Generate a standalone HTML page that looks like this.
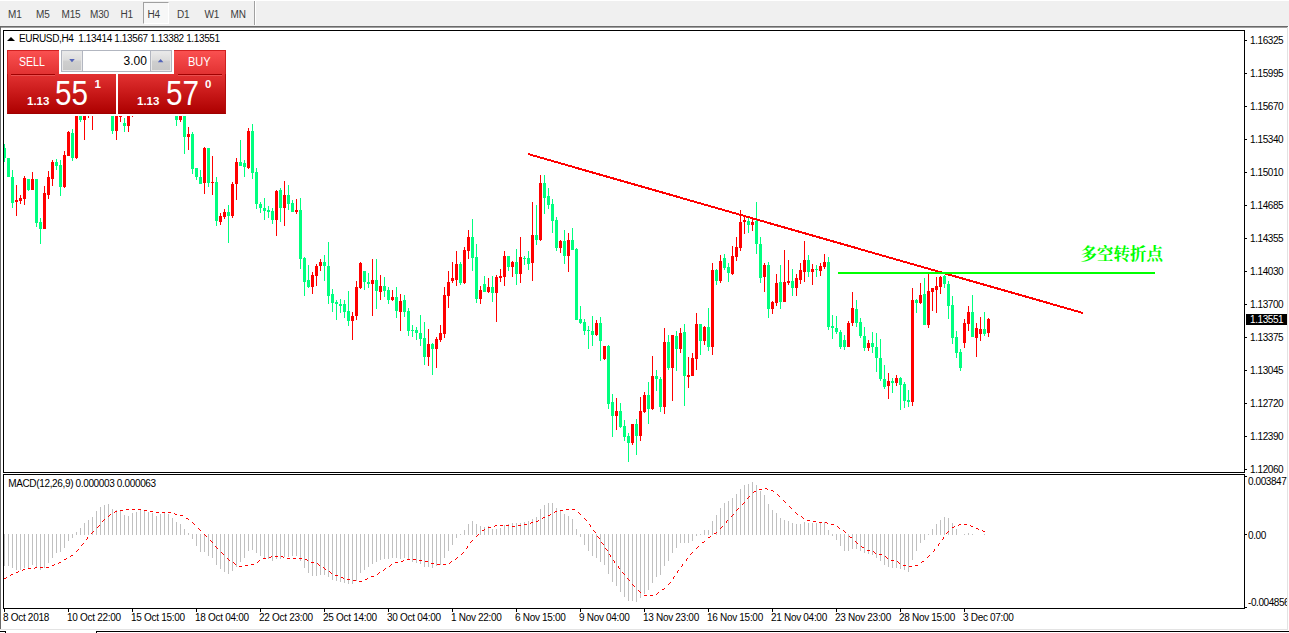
<!DOCTYPE html>
<html><head><meta charset="utf-8"><title>EURUSD,H4</title>
<style>
html,body{margin:0;padding:0;background:#fff;}
body{width:1289px;height:633px;position:relative;overflow:hidden;font-family:"Liberation Sans",sans-serif;font-size:10px;letter-spacing:-0.42px;color:#000;}
div,span{position:absolute;box-sizing:border-box;white-space:nowrap;}
#topbar{left:0;top:0;width:1289px;height:26px;background:#f0f0f0;border-top:1px solid #fff;}
.tb{top:9.2px;font-size:10px;letter-spacing:-0.2px;color:#3c3c3c;line-height:11px;}
#h4{left:143px;top:2px;width:26px;height:22px;border:1px solid #a0a0a0;border-right-color:#fff;border-bottom-color:#fff;background:#f7f7f7;}
#sep{left:254px;top:1px;width:1px;height:24px;background:#a0a0a0;}
#sep2{left:255px;top:1px;width:1px;height:24px;background:#fff;}
#tl1{left:0;top:26px;width:1288px;height:1px;background:#696969;}
#tl2{left:0;top:27px;width:1288px;height:1px;background:#a0a0a0;}
#ll{left:0;top:27px;width:1px;height:602px;background:#696969;}
#rl{left:1287px;top:27px;width:1px;height:603px;background:#e3e3e3;}
#bl{left:0;top:629px;width:1288px;height:1px;background:#e3e3e3;}
#bb{left:96px;top:631px;width:1193px;height:2px;border-top:1px solid #000;border-left:1px solid #000;background:#fff;}
#main{left:3px;top:30px;width:1242px;height:443px;border:1px solid #000;}
#sub{left:3px;top:474px;width:1242px;height:135px;border:1px solid #000;}
.tk{left:1245px;width:2px;height:1px;background:#000;}
.ax{left:1250px;line-height:12px;height:12px;}
.vt{top:609px;width:1px;height:3px;background:#000;}
.dt{top:612px;line-height:12px;letter-spacing:-0.3px;}
#cur{left:1246px;top:314px;width:41px;height:11px;background:#000;color:#fff;}
#cur span{left:4px;top:0.2px;line-height:12px;}
#title{left:19px;top:33.4px;letter-spacing:-0.37px;line-height:12px;}
#tri{left:7px;top:37px;width:0;height:0;border-left:4px solid transparent;border-right:4px solid transparent;border-bottom:4px solid #000;}
#macdl{left:8.2px;top:478.3px;line-height:12px;letter-spacing:-0.35px;}
svg{position:absolute;left:0;top:0;}
/* trade panel */
.red{background:linear-gradient(#f84c4c,#e03030 35%,#c41414 70%,#ae0000);}
#sellL{left:7px;top:74px;width:109px;height:40px;background:linear-gradient(#e23232,#c81818 50%,#ad0000);border-left:1px solid #b40c0c;border-bottom:1px solid #a00000;}
#buyL{left:118px;top:74px;width:108px;height:40px;background:linear-gradient(#e23232,#c81818 50%,#ad0000);border-right:1px solid #b40c0c;border-bottom:1px solid #a00000;}
#sellT{left:7px;top:50px;width:52px;height:24px;background:linear-gradient(#fa5050,#e23232);border-top:1px solid #d02020;border-left:1px solid #d02020;}
#buyT{left:174px;top:50px;width:52px;height:24px;background:linear-gradient(#fa5050,#e23232);border-top:1px solid #d02020;border-right:1px solid #d02020;}
.ul{top:74px;height:2px;background:#a00000;border-bottom:1px solid #e85050;}
.bt{color:#fff;letter-spacing:0;font-size:12px;line-height:14px;top:54.5px;transform-origin:0 0;}
.sm{color:#fff;letter-spacing:0;font-weight:bold;font-size:11.5px;line-height:12px;top:94.5px;}
.big{color:#fff;letter-spacing:0;font-size:34.5px;line-height:36px;top:75.2px;transform-origin:0 0;transform:scaleX(0.86);}
.sup{color:#fff;letter-spacing:0;font-weight:bold;font-size:11.5px;line-height:12px;top:78.3px;}
#spin{left:61px;top:50px;width:111px;height:22px;border:1px solid #b2b6c0;background:#fff;}
.sp{top:51px;width:1px;height:20px;background:#b2b6c0;}
.sb{top:51px;width:20px;height:20px;background:linear-gradient(#e9e9e9,#dcdcdc 45%,#cfcfcf 50%,#c8c8c8);border:1px solid #e8e8e8;}
#vol{left:123.5px;top:54px;letter-spacing:0;font-size:12px;line-height:14px;color:#000;}
</style></head><body>
<div id="topbar"></div><div id="h4"></div><div id="sep"></div><div id="sep2"></div><span class="tb" style="left:8px">M1</span><span class="tb" style="left:36px">M5</span><span class="tb" style="left:61.5px">M15</span><span class="tb" style="left:90px">M30</span><span class="tb" style="left:120.5px">H1</span><span class="tb" style="left:147.5px">H4</span><span class="tb" style="left:177px">D1</span><span class="tb" style="left:204.5px">W1</span><span class="tb" style="left:230.5px">MN</span>
<div id="tl1"></div><div id="tl2"></div><div id="ll"></div><div id="rl"></div><div id="bl"></div><div id="bb"></div>
<div style="left:0;top:631px;width:6px;height:2px;border-top:1px solid #000;border-right:1px solid #000"></div><div id="main"></div><div id="sub"></div>
<svg width="1289" height="633" viewBox="0 0 1289 633" shape-rendering="crispEdges">
<defs><clipPath id="c1"><rect x="4" y="31" width="1240" height="441"/></clipPath><clipPath id="c2"><rect x="4" y="475" width="1240" height="133"/></clipPath></defs>
<g clip-path="url(#c1)"><path fill="#00ff7f" d="M4 144h1V162h-1zM3 148h3V158h-3zM8 158h1V177h-1zM7 158h3V177h-3zM12 170h1V208h-1zM11 177h3V203h-3zM28 179h1V191h-1zM27 179h3V190h-3zM36 179h1V227h-1zM35 179h3V223h-3zM40 218h1V244h-1zM39 222h3V229h-3zM56 159h1V170h-1zM55 162h3V166h-3zM60 160h1V196h-1zM59 165h3V187h-3zM72 129h1V161h-1zM71 133h3V158h-3zM80 100h1V122h-1zM79 105h3V120h-3zM112 100h1V134h-1zM111 105h3V131h-3zM124 118h1V132h-1zM123 123h3V126h-3zM176 100h1V126h-1zM175 105h3V120h-3zM184 100h1V154h-1zM183 105h3V137h-3zM192 132h1V174h-1zM191 134h3V169h-3zM196 168h1V180h-1zM195 168h3V177h-3zM200 170h1V184h-1zM199 177h3V184h-3zM208 148h1V187h-1zM207 148h3V183h-3zM216 177h1V226h-1zM215 182h3V221h-3zM228 205h1V243h-1zM227 212h3V216h-3zM240 140h1V166h-1zM239 162h3V166h-3zM244 160h1V177h-1zM243 163h3V167h-3zM252 124h1V179h-1zM251 131h3V173h-3zM256 168h1V209h-1zM255 172h3V204h-3zM260 202h1V213h-1zM259 204h3V208h-3zM264 198h1V220h-1zM263 208h3V211h-3zM268 206h1V218h-1zM267 210h3V212h-3zM272 208h1V224h-1zM271 211h3V220h-3zM280 188h1V222h-1zM279 190h3V208h-3zM288 185h1V210h-1zM287 195h3V204h-3zM292 200h1V212h-1zM291 203h3V212h-3zM300 198h1V269h-1zM299 210h3V259h-3zM304 257h1V296h-1zM303 258h3V282h-3zM308 265h1V288h-1zM307 280h3V287h-3zM324 255h1V281h-1zM323 262h3V266h-3zM328 242h1V304h-1zM327 266h3V296h-3zM332 289h1V312h-1zM331 294h3V303h-3zM336 300h1V320h-1zM335 302h3V304h-3zM340 299h1V313h-1zM339 304h3V306h-3zM344 300h1V318h-1zM343 304h3V312h-3zM348 291h1V326h-1zM347 311h3V321h-3zM364 271h1V290h-1zM363 271h3V282h-3zM368 273h1V288h-1zM367 282h3V284h-3zM376 259h1V309h-1zM375 280h3V291h-3zM384 277h1V297h-1zM383 286h3V291h-3zM388 287h1V304h-1zM387 290h3V300h-3zM396 287h1V318h-1zM395 297h3V311h-3zM404 295h1V317h-1zM403 300h3V312h-3zM408 308h1V336h-1zM407 311h3V331h-3zM412 325h1V337h-1zM411 330h3V331h-3zM416 327h1V340h-1zM415 330h3V333h-3zM420 315h1V346h-1zM419 333h3V339h-3zM424 322h1V365h-1zM423 338h3V357h-3zM432 343h1V375h-1zM431 344h3V349h-3zM460 262h1V285h-1zM459 264h3V283h-3zM472 219h1V271h-1zM471 237h3V258h-3zM476 244h1V303h-1zM475 257h3V299h-3zM484 276h1V292h-1zM483 284h3V292h-3zM492 276h1V302h-1zM491 287h3V293h-3zM508 256h1V271h-1zM507 256h3V267h-3zM516 249h1V285h-1zM515 262h3V274h-3zM524 256h1V265h-1zM523 258h3V259h-3zM528 251h1V270h-1zM527 258h3V264h-3zM536 205h1V245h-1zM535 235h3V240h-3zM544 175h1V214h-1zM543 183h3V198h-3zM548 188h1V209h-1zM547 196h3V205h-3zM552 199h1V233h-1zM551 204h3V221h-3zM556 217h1V251h-1zM555 220h3V248h-3zM564 230h1V264h-1zM563 241h3V256h-3zM572 228h1V250h-1zM571 240h3V250h-3zM576 248h1V320h-1zM575 249h3V320h-3zM580 306h1V324h-1zM579 319h3V323h-3zM584 319h1V335h-1zM583 322h3V331h-3zM588 326h1V349h-1zM587 330h3V331h-3zM592 316h1V346h-1zM591 331h3V335h-3zM600 317h1V361h-1zM599 323h3V341h-3zM608 345h1V409h-1zM607 346h3V404h-3zM612 394h1V437h-1zM611 402h3V416h-3zM620 403h1V428h-1zM619 411h3V427h-3zM624 420h1V441h-1zM623 426h3V437h-3zM628 433h1V462h-1zM627 436h3V443h-3zM636 419h1V455h-1zM635 424h3V436h-3zM648 382h1V424h-1zM647 395h3V409h-3zM656 370h1V391h-1zM655 376h3V379h-3zM660 377h1V412h-1zM659 379h3V407h-3zM668 335h1V370h-1zM667 342h3V368h-3zM676 331h1V371h-1zM675 336h3V349h-3zM684 324h1V406h-1zM683 332h3V376h-3zM700 324h1V355h-1zM699 324h3V341h-3zM708 308h1V351h-1zM707 327h3V347h-3zM716 269h1V285h-1zM715 270h3V281h-3zM724 254h1V270h-1zM723 258h3V268h-3zM728 263h1V282h-1zM727 267h3V273h-3zM748 218h1V233h-1zM747 221h3V225h-3zM756 202h1V254h-1zM755 221h3V244h-3zM760 237h1V283h-1zM759 244h3V278h-3zM768 262h1V318h-1zM767 265h3V309h-3zM780 265h1V309h-1zM779 282h3V302h-3zM792 269h1V296h-1zM791 281h3V288h-3zM808 255h1V277h-1zM807 260h3V272h-3zM816 265h1V277h-1zM815 269h3V270h-3zM828 257h1V330h-1zM827 262h3V327h-3zM832 315h1V339h-1zM831 326h3V328h-3zM836 316h1V334h-1zM835 328h3V332h-3zM840 330h1V349h-1zM839 332h3V347h-3zM844 335h1V350h-1zM843 340h3V347h-3zM856 300h1V327h-1zM855 309h3V323h-3zM860 318h1V338h-1zM859 322h3V336h-3zM864 327h1V351h-1zM863 336h3V348h-3zM872 332h1V353h-1zM871 343h3V347h-3zM876 333h1V372h-1zM875 347h3V358h-3zM880 339h1V381h-1zM879 358h3V379h-3zM884 365h1V389h-1zM883 379h3V387h-3zM892 378h1V393h-1zM891 381h3V383h-3zM900 377h1V410h-1zM899 378h3V385h-3zM904 382h1V408h-1zM903 384h3V401h-3zM908 390h1V407h-1zM907 400h3V402h-3zM916 299h1V313h-1zM915 300h3V303h-3zM924 278h1V325h-1zM923 294h3V325h-3zM944 275h1V288h-1zM943 276h3V284h-3zM948 281h1V319h-1zM947 284h3V306h-3zM952 296h1V344h-1zM951 305h3V338h-3zM956 331h1V358h-1zM955 337h3V353h-3zM960 349h1V371h-1zM959 352h3V368h-3zM972 295h1V337h-1zM971 312h3V337h-3zM984 312h1V336h-1zM983 329h3V334h-3z"/><path fill="#ff0000" d="M16 185h1V216h-1zM15 200h3V202h-3zM20 195h1V204h-1zM19 198h3V201h-3zM24 176h1V205h-1zM23 178h3V199h-3zM32 172h1V190h-1zM31 179h3V190h-3zM44 186h1V229h-1zM43 193h3V229h-3zM48 171h1V199h-1zM47 177h3V195h-3zM52 160h1V186h-1zM51 162h3V179h-3zM64 151h1V188h-1zM63 155h3V187h-3zM68 131h1V156h-1zM67 132h3V156h-3zM76 100h1V159h-1zM75 105h3V158h-3zM84 100h1V140h-1zM83 105h3V120h-3zM88 100h1V118h-1zM87 105h3V113h-3zM92 100h1V130h-1zM91 105h3V112h-3zM116 100h1V140h-1zM115 105h3V131h-3zM120 100h1V122h-1zM119 105h3V117h-3zM128 100h1V132h-1zM127 105h3V126h-3zM132 100h1V117h-1zM131 105h3V113h-3zM180 100h1V122h-1zM179 105h3V120h-3zM188 127h1V150h-1zM187 134h3V137h-3zM204 147h1V194h-1zM203 148h3V183h-3zM212 156h1V195h-1zM211 182h3V183h-3zM220 213h1V225h-1zM219 216h3V222h-3zM224 209h1V219h-1zM223 212h3V217h-3zM232 182h1V218h-1zM231 184h3V216h-3zM236 158h1V200h-1zM235 162h3V184h-3zM248 128h1V169h-1zM247 131h3V168h-3zM276 190h1V236h-1zM275 191h3V220h-3zM284 181h1V226h-1zM283 195h3V208h-3zM296 199h1V214h-1zM295 210h3V212h-3zM312 272h1V294h-1zM311 275h3V287h-3zM316 264h1V286h-1zM315 266h3V276h-3zM320 259h1V271h-1zM319 262h3V266h-3zM352 312h1V340h-1zM351 316h3V321h-3zM356 281h1V320h-1zM355 287h3V316h-3zM360 262h1V289h-1zM359 263h3V288h-3zM372 259h1V316h-1zM371 280h3V284h-3zM380 275h1V300h-1zM379 286h3V292h-3zM392 290h1V301h-1zM391 297h3V300h-3zM400 294h1V331h-1zM399 301h3V312h-3zM428 329h1V366h-1zM427 344h3V357h-3zM436 337h1V368h-1zM435 339h3V349h-3zM440 325h1V342h-1zM439 333h3V340h-3zM444 287h1V338h-1zM443 295h3V334h-3zM448 271h1V308h-1zM447 282h3V296h-3zM452 262h1V283h-1zM451 278h3V281h-3zM456 251h1V286h-1zM455 264h3V280h-3zM464 247h1V284h-1zM463 250h3V283h-3zM468 230h1V259h-1zM467 237h3V251h-3zM480 286h1V304h-1zM479 290h3V299h-3zM488 278h1V293h-1zM487 287h3V292h-3zM496 275h1V322h-1zM495 277h3V293h-3zM500 269h1V282h-1zM499 276h3V278h-3zM504 251h1V286h-1zM503 256h3V277h-3zM512 261h1V277h-1zM511 262h3V267h-3zM520 237h1V283h-1zM519 257h3V274h-3zM532 202h1V281h-1zM531 235h3V263h-3zM540 175h1V241h-1zM539 183h3V240h-3zM560 240h1V253h-1zM559 241h3V248h-3zM568 233h1V272h-1zM567 240h3V256h-3zM596 320h1V336h-1zM595 323h3V335h-3zM604 346h1V360h-1zM603 346h3V359h-3zM616 398h1V430h-1zM615 411h3V416h-3zM632 424h1V445h-1zM631 424h3V443h-3zM640 397h1V441h-1zM639 411h3V436h-3zM644 392h1V413h-1zM643 395h3V412h-3zM652 356h1V410h-1zM651 376h3V409h-3zM664 328h1V414h-1zM663 342h3V407h-3zM672 335h1V401h-1zM671 335h3V368h-3zM680 328h1V353h-1zM679 333h3V349h-3zM688 357h1V388h-1zM687 375h3V377h-3zM692 353h1V376h-1zM691 358h3V376h-3zM696 313h1V370h-1zM695 324h3V359h-3zM704 326h1V345h-1zM703 327h3V341h-3zM712 263h1V355h-1zM711 270h3V347h-3zM720 255h1V283h-1zM719 261h3V281h-3zM732 246h1V275h-1zM731 256h3V274h-3zM736 237h1V261h-1zM735 247h3V257h-3zM740 210h1V251h-1zM739 222h3V248h-3zM744 216h1V234h-1zM743 220h3V222h-3zM752 218h1V231h-1zM751 222h3V225h-3zM764 263h1V292h-1zM763 265h3V277h-3zM772 301h1V314h-1zM771 302h3V309h-3zM776 274h1V306h-1zM775 283h3V303h-3zM784 250h1V302h-1zM783 282h3V302h-3zM788 260h1V285h-1zM787 281h3V283h-3zM796 274h1V296h-1zM795 278h3V288h-3zM800 263h1V284h-1zM799 270h3V280h-3zM804 241h1V282h-1zM803 260h3V272h-3zM812 264h1V285h-1zM811 269h3V272h-3zM820 263h1V276h-1zM819 266h3V271h-3zM824 254h1V269h-1zM823 262h3V267h-3zM848 321h1V347h-1zM847 323h3V347h-3zM852 292h1V326h-1zM851 308h3V323h-3zM868 340h1V351h-1zM867 343h3V348h-3zM888 373h1V399h-1zM887 381h3V386h-3zM896 375h1V386h-1zM895 378h3V383h-3zM912 288h1V406h-1zM911 300h3V402h-3zM920 283h1V304h-1zM919 295h3V303h-3zM928 274h1V328h-1zM927 291h3V325h-3zM932 288h1V311h-1zM931 288h3V292h-3zM936 277h1V313h-1zM935 286h3V290h-3zM940 276h1V294h-1zM939 277h3V287h-3zM964 319h1V348h-1zM963 323h3V343h-3zM968 306h1V331h-1zM967 312h3V324h-3zM976 323h1V357h-1zM975 328h3V338h-3zM980 317h1V341h-1zM979 329h3V334h-3zM988 318h1V337h-1zM987 319h3V333h-3z"/>
<line x1="528" y1="154" x2="1083" y2="313" stroke="#ff0000" stroke-width="2"/>
<rect x="838" y="272" width="317" height="2" fill="#00ff00"/>
<text x="1080.5" y="259.5" font-size="16.5" font-weight="bold" fill="#00ff00" letter-spacing="0" font-family="&quot;Liberation Serif&quot;, &quot;Noto Serif CJK SC&quot;, serif" shape-rendering="auto">多空转折点</text>
</g>
<g clip-path="url(#c2)"><path fill="#c0c0c0" d="M4 534h1V566h-1zM8 534h1V566h-1zM12 534h1V568h-1zM16 534h1V570h-1zM20 534h1V570h-1zM24 534h1V568h-1zM28 534h1V568h-1zM32 534h1V565h-1zM36 534h1V567h-1zM40 534h1V570h-1zM44 534h1V568h-1zM48 534h1V563h-1zM52 534h1V558h-1zM56 534h1V553h-1zM60 534h1V552h-1zM64 534h1V548h-1zM68 534h1V541h-1zM72 534h1V538h-1zM76 532h1V535h-1zM80 528h1V535h-1zM84 523h1V535h-1zM88 520h1V535h-1zM92 517h1V535h-1zM96 511h1V535h-1zM100 507h1V535h-1zM104 505h1V535h-1zM108 504h1V535h-1zM112 509h1V535h-1zM116 510h1V535h-1zM120 511h1V535h-1zM124 515h1V535h-1zM128 516h1V535h-1zM132 513h1V535h-1zM136 512h1V535h-1zM140 510h1V535h-1zM144 511h1V535h-1zM148 512h1V535h-1zM152 513h1V535h-1zM156 516h1V535h-1zM160 514h1V535h-1zM164 513h1V535h-1zM168 514h1V535h-1zM172 518h1V535h-1zM176 522h1V535h-1zM180 524h1V535h-1zM184 529h1V535h-1zM188 533h1V535h-1zM192 534h1V539h-1zM196 534h1V546h-1zM200 534h1V552h-1zM204 534h1V552h-1zM208 534h1V556h-1zM212 534h1V558h-1zM216 534h1V565h-1zM220 534h1V569h-1zM224 534h1V572h-1zM228 534h1V574h-1zM232 534h1V571h-1zM236 534h1V567h-1zM240 534h1V562h-1zM244 534h1V558h-1zM248 534h1V551h-1zM252 534h1V550h-1zM256 534h1V553h-1zM260 534h1V556h-1zM264 534h1V558h-1zM268 534h1V559h-1zM272 534h1V561h-1zM276 534h1V559h-1zM280 534h1V559h-1zM284 534h1V557h-1zM288 534h1V557h-1zM292 534h1V556h-1zM296 534h1V556h-1zM300 534h1V561h-1zM304 534h1V568h-1zM308 534h1V573h-1zM312 534h1V576h-1zM316 534h1V576h-1zM320 534h1V575h-1zM324 534h1V575h-1zM328 534h1V577h-1zM332 534h1V580h-1zM336 534h1V581h-1zM340 534h1V582h-1zM344 534h1V583h-1zM348 534h1V584h-1zM352 534h1V584h-1zM356 534h1V581h-1zM360 534h1V573h-1zM364 534h1V570h-1zM368 534h1V567h-1zM372 534h1V564h-1zM376 534h1V562h-1zM380 534h1V560h-1zM384 534h1V559h-1zM388 534h1V559h-1zM392 534h1V558h-1zM396 534h1V558h-1zM400 534h1V559h-1zM404 534h1V558h-1zM408 534h1V560h-1zM412 534h1V562h-1zM416 534h1V563h-1zM420 534h1V564h-1zM424 534h1V567h-1zM428 534h1V567h-1zM432 534h1V568h-1zM436 534h1V566h-1zM440 534h1V565h-1zM444 534h1V558h-1zM448 534h1V551h-1zM452 534h1V545h-1zM456 534h1V538h-1zM460 534h1V535h-1zM464 530h1V535h-1zM468 524h1V535h-1zM472 521h1V535h-1zM476 524h1V535h-1zM480 526h1V535h-1zM484 527h1V535h-1zM488 526h1V535h-1zM492 529h1V535h-1zM496 529h1V535h-1zM500 528h1V535h-1zM504 525h1V535h-1zM508 524h1V535h-1zM512 523h1V535h-1zM516 523h1V535h-1zM520 523h1V535h-1zM524 522h1V535h-1zM528 521h1V535h-1zM532 519h1V535h-1zM536 517h1V535h-1zM540 509h1V535h-1zM544 505h1V535h-1zM548 503h1V535h-1zM552 503h1V535h-1zM556 508h1V535h-1zM560 510h1V535h-1zM564 514h1V535h-1zM568 516h1V535h-1zM572 519h1V535h-1zM576 529h1V535h-1zM580 534h1V537h-1zM584 534h1V545h-1zM588 534h1V551h-1zM592 534h1V556h-1zM596 534h1V558h-1zM600 534h1V562h-1zM604 534h1V565h-1zM608 534h1V574h-1zM612 534h1V582h-1zM616 534h1V586h-1zM620 534h1V592h-1zM624 534h1V597h-1zM628 534h1V601h-1zM632 534h1V601h-1zM636 534h1V602h-1zM640 534h1V598h-1zM644 534h1V594h-1zM648 534h1V590h-1zM652 534h1V583h-1zM656 534h1V577h-1zM660 534h1V575h-1zM664 534h1V566h-1zM668 534h1V561h-1zM672 534h1V553h-1zM676 534h1V548h-1zM680 534h1V543h-1zM684 534h1V543h-1zM688 534h1V543h-1zM692 534h1V541h-1zM696 534h1V536h-1zM700 534h1V535h-1zM704 530h1V535h-1zM708 530h1V535h-1zM712 521h1V535h-1zM716 515h1V535h-1zM720 508h1V535h-1zM724 503h1V535h-1zM728 501h1V535h-1zM732 498h1V535h-1zM736 494h1V535h-1zM740 489h1V535h-1zM744 485h1V535h-1zM748 484h1V535h-1zM752 482h1V535h-1zM756 485h1V535h-1zM760 491h1V535h-1zM764 495h1V535h-1zM768 504h1V535h-1zM772 510h1V535h-1zM776 513h1V535h-1zM780 518h1V535h-1zM784 520h1V535h-1zM788 521h1V535h-1zM792 523h1V535h-1zM796 524h1V535h-1zM800 524h1V535h-1zM804 522h1V535h-1zM808 523h1V535h-1zM812 523h1V535h-1zM816 523h1V535h-1zM820 523h1V535h-1zM824 522h1V535h-1zM828 530h1V535h-1zM832 534h1V536h-1zM836 534h1V540h-1zM840 534h1V546h-1zM844 534h1V551h-1zM848 534h1V551h-1zM852 534h1V549h-1zM856 534h1V549h-1zM860 534h1V551h-1zM864 534h1V553h-1zM868 534h1V554h-1zM872 534h1V555h-1zM876 534h1V558h-1zM880 534h1V561h-1zM884 534h1V565h-1zM888 534h1V567h-1zM892 534h1V568h-1zM896 534h1V568h-1zM900 534h1V569h-1zM904 534h1V570h-1zM908 534h1V572h-1zM912 534h1V560h-1zM916 534h1V551h-1zM920 534h1V543h-1zM924 534h1V540h-1zM928 534h1V535h-1zM932 529h1V535h-1zM936 524h1V535h-1zM940 520h1V535h-1zM944 517h1V535h-1zM948 518h1V535h-1zM952 523h1V535h-1zM956 529h1V535h-1zM964 534h1V535h-1zM968 533h1V535h-1zM972 534h1V535h-1zM984 534h1V535h-1z"/><path fill="#ff0000" d="M4 578h1v1h-1zM5 578h1v1h-1zM6 577h1v1h-1zM10 575h1v1h-1zM11 574h1v1h-1zM12 574h1v1h-1zM16 572h1v1h-1zM17 572h1v1h-1zM18 571h1v1h-1zM22 570h1v1h-1zM23 569h1v1h-1zM24 569h1v1h-1zM28 568h1v1h-1zM29 568h1v1h-1zM30 568h1v1h-1zM34 568h1v1h-1zM35 567h1v1h-1zM36 567h1v1h-1zM40 567h1v1h-1zM41 567h1v1h-1zM42 567h1v1h-1zM46 567h1v1h-1zM47 567h1v1h-1zM48 567h1v1h-1zM52 565h1v1h-1zM53 565h1v1h-1zM54 564h1v1h-1zM58 563h1v1h-1zM59 562h1v1h-1zM60 562h1v1h-1zM64 559h1v1h-1zM65 559h1v1h-1zM66 558h1v1h-1zM70 556h1v1h-1zM71 555h1v1h-1zM72 555h1v1h-1zM76 551h1v1h-1zM77 550h1v1h-1zM78 549h1v1h-1zM81 545h1v1h-1zM82 544h1v1h-1zM83 543h1v1h-1zM86 539h1v1h-1zM87 538h1v1h-1zM87 537h1v1h-1zM91 533h1v1h-1zM92 532h1v1h-1zM93 531h1v1h-1zM97 527h1v1h-1zM98 526h1v1h-1zM99 525h1v1h-1zM102 521h1v1h-1zM103 520h1v1h-1zM104 519h1v1h-1zM108 516h1v1h-1zM109 515h1v1h-1zM110 514h1v1h-1zM114 512h1v1h-1zM115 511h1v1h-1zM116 511h1v1h-1zM120 510h1v1h-1zM121 510h1v1h-1zM122 510h1v1h-1zM126 509h1v1h-1zM127 509h1v1h-1zM128 509h1v1h-1zM132 509h1v1h-1zM133 509h1v1h-1zM134 509h1v1h-1zM138 509h1v1h-1zM139 509h1v1h-1zM140 509h1v1h-1zM144 510h1v1h-1zM145 510h1v1h-1zM146 510h1v1h-1zM150 511h1v1h-1zM151 511h1v1h-1zM152 511h1v1h-1zM156 512h1v1h-1zM157 512h1v1h-1zM158 512h1v1h-1zM162 512h1v1h-1zM163 512h1v1h-1zM164 512h1v1h-1zM168 512h1v1h-1zM169 512h1v1h-1zM170 512h1v1h-1zM174 513h1v1h-1zM175 514h1v1h-1zM176 514h1v1h-1zM180 515h1v1h-1zM181 515h1v1h-1zM182 515h1v1h-1zM186 518h1v1h-1zM187 518h1v1h-1zM188 519h1v1h-1zM192 522h1v1h-1zM193 523h1v1h-1zM194 524h1v1h-1zM198 528h1v1h-1zM199 529h1v1h-1zM200 530h1v1h-1zM204 534h1v1h-1zM205 535h1v1h-1zM206 536h1v1h-1zM210 540h1v1h-1zM211 541h1v1h-1zM212 542h1v1h-1zM215 546h1v1h-1zM216 547h1v1h-1zM217 548h1v1h-1zM221 552h1v1h-1zM222 553h1v1h-1zM223 554h1v1h-1zM227 558h1v1h-1zM228 559h1v1h-1zM229 560h1v1h-1zM233 562h1v1h-1zM234 563h1v1h-1zM235 564h1v1h-1zM239 566h1v1h-1zM240 566h1v1h-1zM241 566h1v1h-1zM245 565h1v1h-1zM246 565h1v1h-1zM247 565h1v1h-1zM251 564h1v1h-1zM252 564h1v1h-1zM253 564h1v1h-1zM257 562h1v1h-1zM258 561h1v1h-1zM259 560h1v1h-1zM263 558h1v1h-1zM264 558h1v1h-1zM265 558h1v1h-1zM269 557h1v1h-1zM270 557h1v1h-1zM271 556h1v1h-1zM275 556h1v1h-1zM276 556h1v1h-1zM277 556h1v1h-1zM281 556h1v1h-1zM282 556h1v1h-1zM283 557h1v1h-1zM287 558h1v1h-1zM288 558h1v1h-1zM289 558h1v1h-1zM293 558h1v1h-1zM294 558h1v1h-1zM295 558h1v1h-1zM299 558h1v1h-1zM300 558h1v1h-1zM301 558h1v1h-1zM305 559h1v1h-1zM306 559h1v1h-1zM307 560h1v1h-1zM311 562h1v1h-1zM312 562h1v1h-1zM313 562h1v1h-1zM317 563h1v1h-1zM318 564h1v1h-1zM319 565h1v1h-1zM323 567h1v1h-1zM324 568h1v1h-1zM325 569h1v1h-1zM329 571h1v1h-1zM330 572h1v1h-1zM331 573h1v1h-1zM335 575h1v1h-1zM336 575h1v1h-1zM337 575h1v1h-1zM341 577h1v1h-1zM342 577h1v1h-1zM343 578h1v1h-1zM347 579h1v1h-1zM348 579h1v1h-1zM349 579h1v1h-1zM353 580h1v1h-1zM354 580h1v1h-1zM355 580h1v1h-1zM359 581h1v1h-1zM360 581h1v1h-1zM361 581h1v1h-1zM365 579h1v1h-1zM366 579h1v1h-1zM367 578h1v1h-1zM371 576h1v1h-1zM372 576h1v1h-1zM373 576h1v1h-1zM377 574h1v1h-1zM378 573h1v1h-1zM379 572h1v1h-1zM383 570h1v1h-1zM384 569h1v1h-1zM385 568h1v1h-1zM389 566h1v1h-1zM390 565h1v1h-1zM391 564h1v1h-1zM395 562h1v1h-1zM396 562h1v1h-1zM397 562h1v1h-1zM401 561h1v1h-1zM402 561h1v1h-1zM403 560h1v1h-1zM407 559h1v1h-1zM408 559h1v1h-1zM409 559h1v1h-1zM413 559h1v1h-1zM414 559h1v1h-1zM415 559h1v1h-1zM419 560h1v1h-1zM420 560h1v1h-1zM421 560h1v1h-1zM425 561h1v1h-1zM426 561h1v1h-1zM427 561h1v1h-1zM431 563h1v1h-1zM432 563h1v1h-1zM433 563h1v1h-1zM437 564h1v1h-1zM438 564h1v1h-1zM439 564h1v1h-1zM443 564h1v1h-1zM444 564h1v1h-1zM445 564h1v1h-1zM449 563h1v1h-1zM450 562h1v1h-1zM451 561h1v1h-1zM455 559h1v1h-1zM456 558h1v1h-1zM457 557h1v1h-1zM461 554h1v1h-1zM462 553h1v1h-1zM463 552h1v1h-1zM466 548h1v1h-1zM467 547h1v1h-1zM467 546h1v1h-1zM470 542h1v1h-1zM471 541h1v1h-1zM472 540h1v1h-1zM476 536h1v1h-1zM477 535h1v1h-1zM478 534h1v1h-1zM482 530h1v1h-1zM483 530h1v1h-1zM484 529h1v1h-1zM488 527h1v1h-1zM489 527h1v1h-1zM490 527h1v1h-1zM494 526h1v1h-1zM495 525h1v1h-1zM496 525h1v1h-1zM500 525h1v1h-1zM501 525h1v1h-1zM502 525h1v1h-1zM506 525h1v1h-1zM507 525h1v1h-1zM508 525h1v1h-1zM512 526h1v1h-1zM513 526h1v1h-1zM514 526h1v1h-1zM518 525h1v1h-1zM519 525h1v1h-1zM520 525h1v1h-1zM524 524h1v1h-1zM525 524h1v1h-1zM526 524h1v1h-1zM530 523h1v1h-1zM531 522h1v1h-1zM532 522h1v1h-1zM536 521h1v1h-1zM537 521h1v1h-1zM538 520h1v1h-1zM542 518h1v1h-1zM543 517h1v1h-1zM544 517h1v1h-1zM548 515h1v1h-1zM549 515h1v1h-1zM550 514h1v1h-1zM554 512h1v1h-1zM555 511h1v1h-1zM556 511h1v1h-1zM560 510h1v1h-1zM561 510h1v1h-1zM562 510h1v1h-1zM566 509h1v1h-1zM567 509h1v1h-1zM568 509h1v1h-1zM572 509h1v1h-1zM573 509h1v1h-1zM574 509h1v1h-1zM578 512h1v1h-1zM579 513h1v1h-1zM580 514h1v1h-1zM584 518h1v1h-1zM585 519h1v1h-1zM586 520h1v1h-1zM589 524h1v1h-1zM590 525h1v1h-1zM590 526h1v1h-1zM593 530h1v1h-1zM594 531h1v1h-1zM595 532h1v1h-1zM597 536h1v1h-1zM598 537h1v1h-1zM599 538h1v1h-1zM601 542h1v1h-1zM602 543h1v1h-1zM603 544h1v1h-1zM605 548h1v1h-1zM606 549h1v1h-1zM607 550h1v1h-1zM609 554h1v1h-1zM610 555h1v1h-1zM610 556h1v1h-1zM613 560h1v1h-1zM614 561h1v1h-1zM614 562h1v1h-1zM618 566h1v1h-1zM618 567h1v1h-1zM619 568h1v1h-1zM622 572h1v1h-1zM623 573h1v1h-1zM624 574h1v1h-1zM627 578h1v1h-1zM628 579h1v1h-1zM629 580h1v1h-1zM632 584h1v1h-1zM633 585h1v1h-1zM634 586h1v1h-1zM638 590h1v1h-1zM639 591h1v1h-1zM640 592h1v1h-1zM644 595h1v1h-1zM645 595h1v1h-1zM646 595h1v1h-1zM650 595h1v1h-1zM651 595h1v1h-1zM652 595h1v1h-1zM656 594h1v1h-1zM657 593h1v1h-1zM658 592h1v1h-1zM662 589h1v1h-1zM663 589h1v1h-1zM664 588h1v1h-1zM668 584h1v1h-1zM669 583h1v1h-1zM670 582h1v1h-1zM673 578h1v1h-1zM673 577h1v1h-1zM674 576h1v1h-1zM677 572h1v1h-1zM677 571h1v1h-1zM678 570h1v1h-1zM681 566h1v1h-1zM682 565h1v1h-1zM682 564h1v1h-1zM686 560h1v1h-1zM686 559h1v1h-1zM687 558h1v1h-1zM690 554h1v1h-1zM691 553h1v1h-1zM692 552h1v1h-1zM696 548h1v1h-1zM697 547h1v1h-1zM698 546h1v1h-1zM702 542h1v1h-1zM703 542h1v1h-1zM704 541h1v1h-1zM708 537h1v1h-1zM709 537h1v1h-1zM710 536h1v1h-1zM714 533h1v1h-1zM715 533h1v1h-1zM716 532h1v1h-1zM720 528h1v1h-1zM721 527h1v1h-1zM722 526h1v1h-1zM726 522h1v1h-1zM726 521h1v1h-1zM727 520h1v1h-1zM731 516h1v1h-1zM732 515h1v1h-1zM733 514h1v1h-1zM736 510h1v1h-1zM737 509h1v1h-1zM738 508h1v1h-1zM742 504h1v1h-1zM743 503h1v1h-1zM744 502h1v1h-1zM747 498h1v1h-1zM748 497h1v1h-1zM749 496h1v1h-1zM753 492h1v1h-1zM754 491h1v1h-1zM755 491h1v1h-1zM759 489h1v1h-1zM760 489h1v1h-1zM761 489h1v1h-1zM765 488h1v1h-1zM766 488h1v1h-1zM767 489h1v1h-1zM771 490h1v1h-1zM772 490h1v1h-1zM773 491h1v1h-1zM777 494h1v1h-1zM778 495h1v1h-1zM779 496h1v1h-1zM783 500h1v1h-1zM784 501h1v1h-1zM785 502h1v1h-1zM789 506h1v1h-1zM790 507h1v1h-1zM791 508h1v1h-1zM795 512h1v1h-1zM796 513h1v1h-1zM797 514h1v1h-1zM801 516h1v1h-1zM802 517h1v1h-1zM803 518h1v1h-1zM807 520h1v1h-1zM808 520h1v1h-1zM809 520h1v1h-1zM813 521h1v1h-1zM814 521h1v1h-1zM815 521h1v1h-1zM819 522h1v1h-1zM820 522h1v1h-1zM821 522h1v1h-1zM825 522h1v1h-1zM826 522h1v1h-1zM827 523h1v1h-1zM831 524h1v1h-1zM832 524h1v1h-1zM833 524h1v1h-1zM837 526h1v1h-1zM838 527h1v1h-1zM839 528h1v1h-1zM843 530h1v1h-1zM844 531h1v1h-1zM845 532h1v1h-1zM849 536h1v1h-1zM850 537h1v1h-1zM851 537h1v1h-1zM855 541h1v1h-1zM856 542h1v1h-1zM857 543h1v1h-1zM861 546h1v1h-1zM862 547h1v1h-1zM863 547h1v1h-1zM867 550h1v1h-1zM868 550h1v1h-1zM869 550h1v1h-1zM873 551h1v1h-1zM874 552h1v1h-1zM875 553h1v1h-1zM879 554h1v1h-1zM880 554h1v1h-1zM881 554h1v1h-1zM885 556h1v1h-1zM886 557h1v1h-1zM887 558h1v1h-1zM891 560h1v1h-1zM892 560h1v1h-1zM893 560h1v1h-1zM897 561h1v1h-1zM898 562h1v1h-1zM899 563h1v1h-1zM903 565h1v1h-1zM904 565h1v1h-1zM905 565h1v1h-1zM909 566h1v1h-1zM910 566h1v1h-1zM911 566h1v1h-1zM915 565h1v1h-1zM916 565h1v1h-1zM917 565h1v1h-1zM921 562h1v1h-1zM922 561h1v1h-1zM923 561h1v1h-1zM927 557h1v1h-1zM928 556h1v1h-1zM929 555h1v1h-1zM933 551h1v1h-1zM934 550h1v1h-1zM934 549h1v1h-1zM938 545h1v1h-1zM938 544h1v1h-1zM939 543h1v1h-1zM942 539h1v1h-1zM943 538h1v1h-1zM943 537h1v1h-1zM946 533h1v1h-1zM947 532h1v1h-1zM948 531h1v1h-1zM952 527h1v1h-1zM953 527h1v1h-1zM954 526h1v1h-1zM958 525h1v1h-1zM959 524h1v1h-1zM960 524h1v1h-1zM964 524h1v1h-1zM965 524h1v1h-1zM966 524h1v1h-1zM970 525h1v1h-1zM971 526h1v1h-1zM972 526h1v1h-1zM976 528h1v1h-1zM977 528h1v1h-1zM978 529h1v1h-1zM982 530h1v1h-1zM983 531h1v1h-1zM984 531h1v1h-1z"/></g>
</svg>
<div class="tk" style="top:40px"></div><div class="ax" style="top:35.4px">1.16325</div><div class="tk" style="top:73px"></div><div class="ax" style="top:68.4px">1.15995</div><div class="tk" style="top:106px"></div><div class="ax" style="top:101.4px">1.15670</div><div class="tk" style="top:139px"></div><div class="ax" style="top:134.4px">1.15340</div><div class="tk" style="top:172px"></div><div class="ax" style="top:167.4px">1.15010</div><div class="tk" style="top:205px"></div><div class="ax" style="top:200.4px">1.14685</div><div class="tk" style="top:238px"></div><div class="ax" style="top:233.4px">1.14355</div><div class="tk" style="top:271px"></div><div class="ax" style="top:266.4px">1.14030</div><div class="tk" style="top:304px"></div><div class="ax" style="top:299.4px">1.13700</div><div class="tk" style="top:337px"></div><div class="ax" style="top:332.4px">1.13375</div><div class="tk" style="top:370px"></div><div class="ax" style="top:365.4px">1.13045</div><div class="tk" style="top:403px"></div><div class="ax" style="top:398.4px">1.12720</div><div class="tk" style="top:436px"></div><div class="ax" style="top:431.4px">1.12390</div><div class="tk" style="top:469px"></div><div class="ax" style="top:464.4px">1.12060</div><div class="vt" style="left:4px"></div><div class="dt" style="left:3px">8 Oct 2018</div><div class="vt" style="left:68px"></div><div class="dt" style="left:67px">10 Oct 22:00</div><div class="vt" style="left:132px"></div><div class="dt" style="left:131px">15 Oct 15:00</div><div class="vt" style="left:196px"></div><div class="dt" style="left:195px">18 Oct 04:00</div><div class="vt" style="left:260px"></div><div class="dt" style="left:259px">22 Oct 23:00</div><div class="vt" style="left:324px"></div><div class="dt" style="left:323px">25 Oct 14:00</div><div class="vt" style="left:388px"></div><div class="dt" style="left:387px">30 Oct 04:00</div><div class="vt" style="left:452px"></div><div class="dt" style="left:451px">1 Nov 22:00</div><div class="vt" style="left:516px"></div><div class="dt" style="left:515px">6 Nov 15:00</div><div class="vt" style="left:580px"></div><div class="dt" style="left:579px">9 Nov 04:00</div><div class="vt" style="left:644px"></div><div class="dt" style="left:643px">13 Nov 23:00</div><div class="vt" style="left:708px"></div><div class="dt" style="left:707px">16 Nov 15:00</div><div class="vt" style="left:772px"></div><div class="dt" style="left:771px">21 Nov 04:00</div><div class="vt" style="left:836px"></div><div class="dt" style="left:835px">23 Nov 23:00</div><div class="vt" style="left:900px"></div><div class="dt" style="left:899px">28 Nov 15:00</div><div class="vt" style="left:964px"></div><div class="dt" style="left:963px">3 Dec 07:00</div>
<div class="tk" style="top:476px;width:2px"></div><div class="ax" style="top:476.4px;left:1248px">0.003847</div>
<div class="tk" style="top:534px"></div><div class="ax" style="top:530px;left:1248px">0.00</div>
<div class="tk" style="top:607px;width:2px"></div><div class="ax" style="top:596.6px;left:1248px;width:39px;overflow:hidden">-0.004856</div>
<div id="cur"><span>1.13551</span></div>
<div id="tri"></div><div id="title">EURUSD,H4&nbsp; 1.13414 1.13567 1.13382 1.13551</div>
<div id="macdl">MACD(12,26,9) 0.000003 0.000063</div>
<div style="left:5px;top:48px;width:223px;height:68px;background:#fff"></div><div id="sellL"></div><div id="buyL"></div><div id="sellT"></div><div id="buyT"></div>
<div class="ul" style="left:11px;width:44px"></div><div class="ul" style="left:178px;width:44px"></div>
<div id="spin"></div><div class="sp" style="left:82px"></div><div class="sp" style="left:150px"></div><div class="sb" style="left:62px"></div><div class="sb" style="left:151px"></div>
<svg width="1289" height="633" viewBox="0 0 1289 633"><path d="M69.2 59h5.6l-2.8 3.2z M157.8 62.2h5.6l-2.8-3.2z" fill="#5464b8"/></svg>
<div id="vol">3.00</div>
<span class="bt" style="left:19px;transform:scaleX(0.88)">SELL</span><span class="bt" style="left:187.5px;transform:scaleX(0.92)">BUY</span>
<span class="sm" style="left:27px">1.13</span><span class="big" style="left:55px">55</span><span class="sup" style="left:94.5px">1</span>
<span class="sm" style="left:137px">1.13</span><span class="big" style="left:165.5px">57</span><span class="sup" style="left:205px">0</span>
</body></html>
